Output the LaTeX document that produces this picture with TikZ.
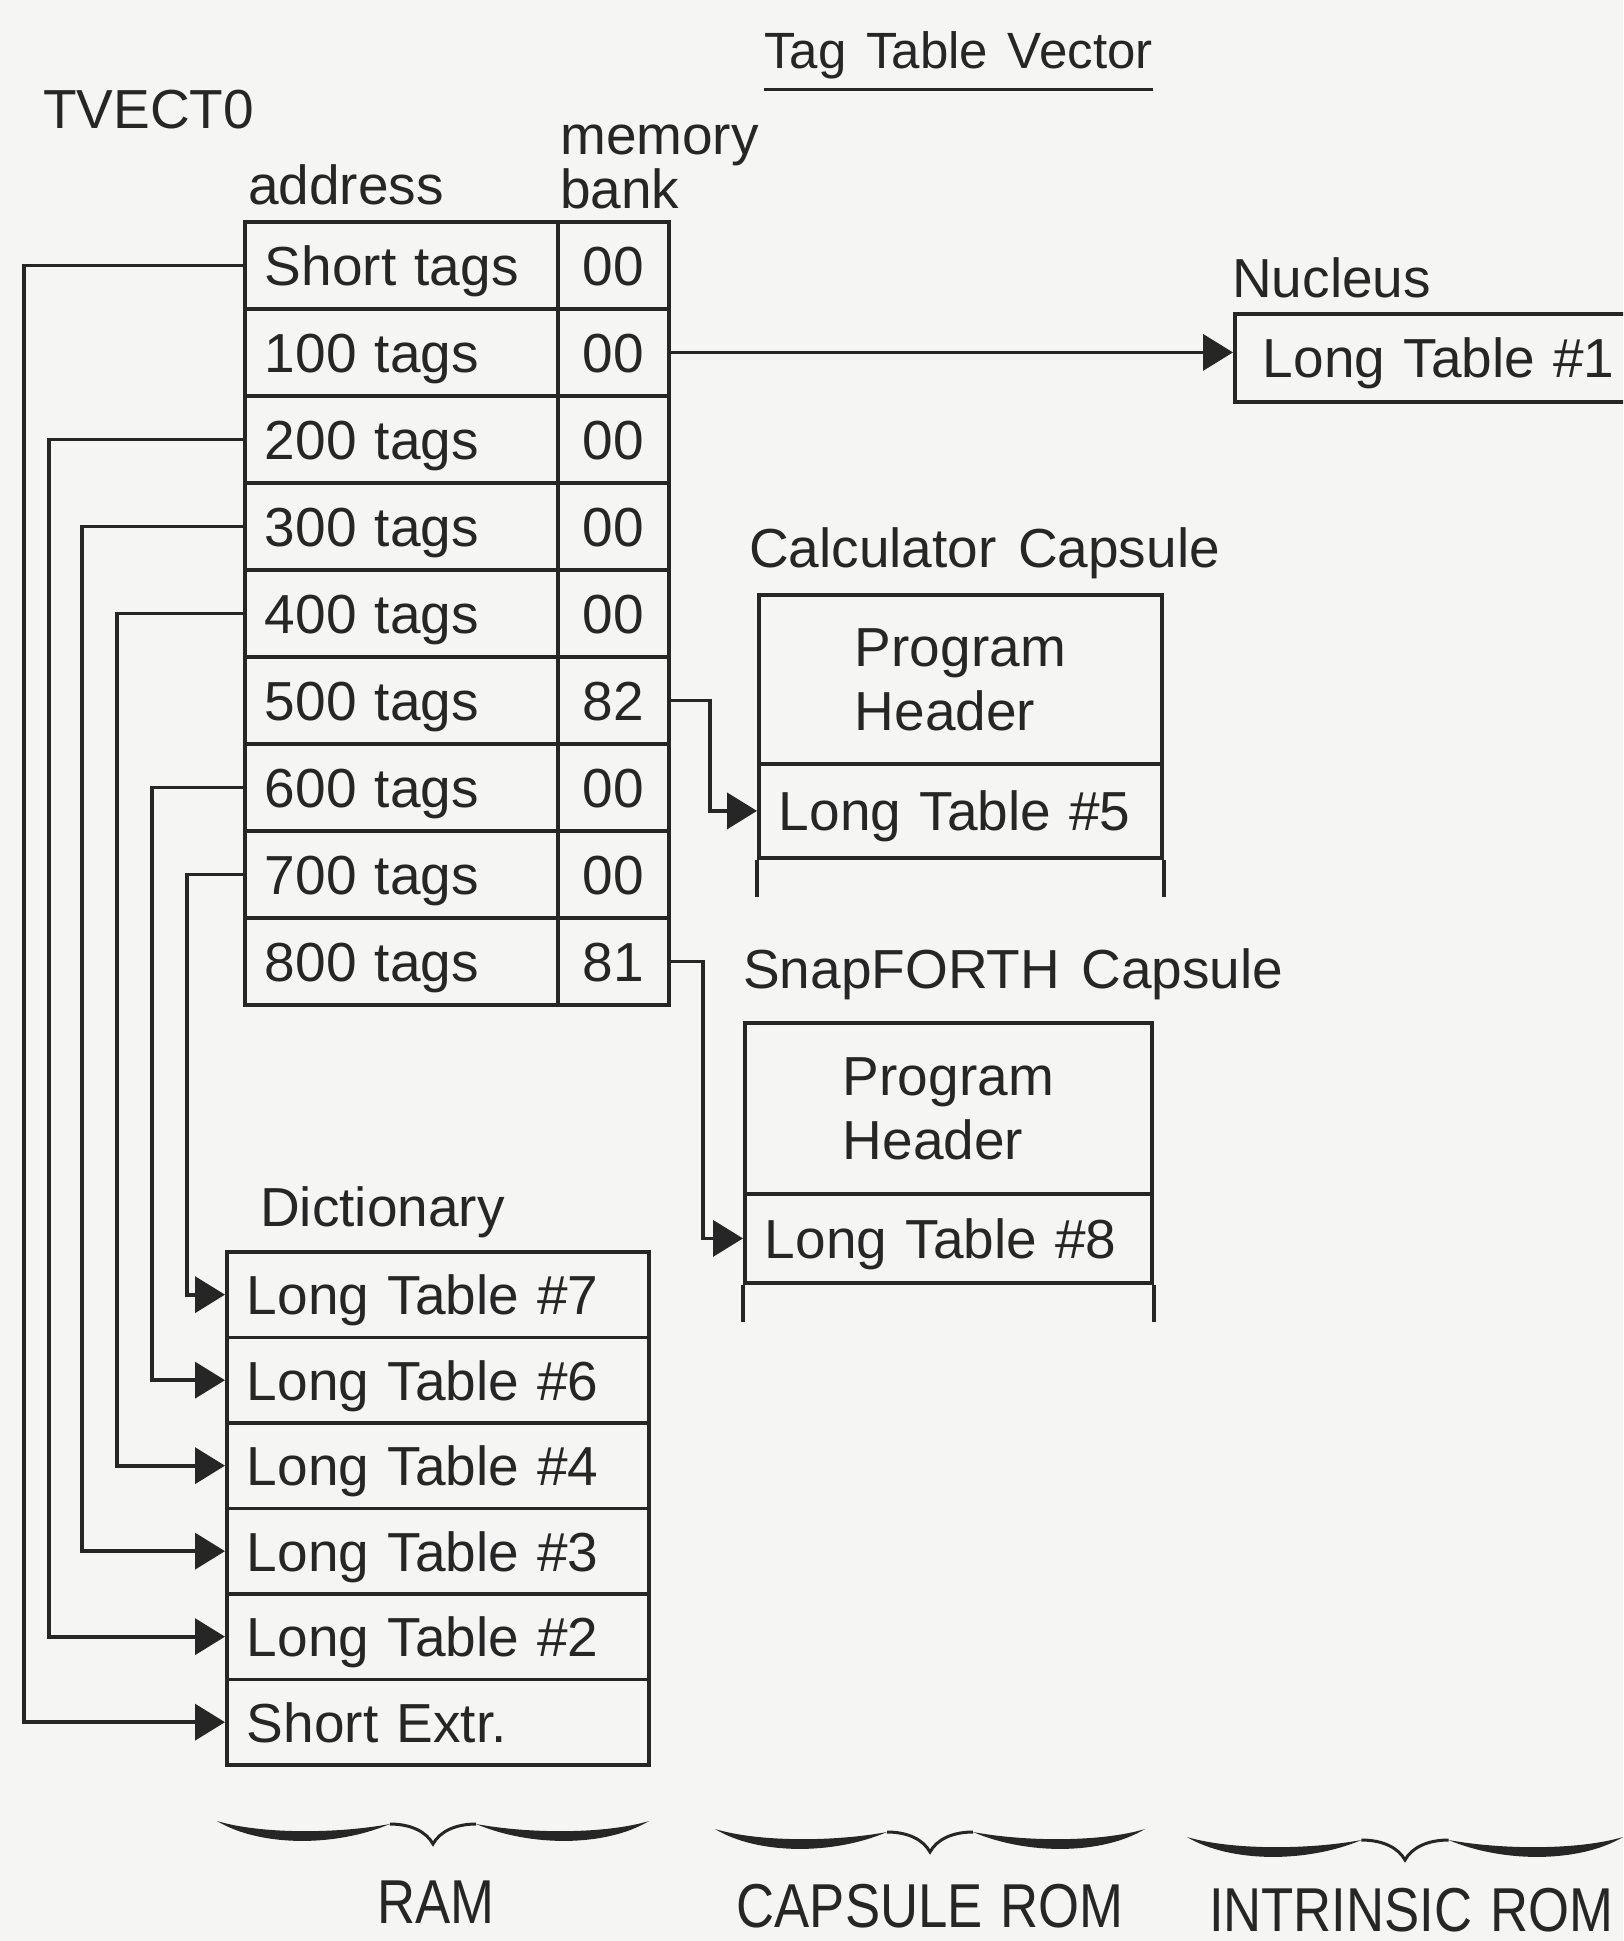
\documentclass[tikz,border=0pt]{standalone}
\usepackage{fontspec}
\setmainfont{Liberation Sans}[WordSpace=1.4]
\newfontfamily\condfont{Liberation Sans}[FakeStretch=0.85,WordSpace=1.2]
\usetikzlibrary{arrows.meta}
\definecolor{ink}{HTML}{262626}
\definecolor{paper}{HTML}{F5F5F3}
\begin{document}
\begin{tikzpicture}[x=1pt,y=-1pt,
  every node/.style={text=ink},
  txt/.style={inner sep=0pt, anchor=base west, font=\fontsize{55}{64}\selectfont},
  cell/.style={draw=ink, line width=3.8pt, anchor=north west, inner xsep=20pt, inner ysep=0pt,
    text height=40pt, text depth=0pt, font=\fontsize{55}{64}\selectfont},
  acell/.style={cell, minimum height=87pt, text width=273pt, align=left},
  bcell/.style={cell, minimum height=87pt, minimum width=111pt},
  dcell/.style={cell, minimum height=85.5pt, text width=382pt, align=left},
  hdr/.style={draw=ink, line width=3.8pt, anchor=north west, inner sep=0pt, align=left,
    font=\fontsize{55}{64}\selectfont},
  conn/.style={draw=ink, line width=3.8pt, -{Triangle[length=30pt,width=36pt]}},
  wire/.style={draw=ink, line width=3.8pt},
  bot/.style={inner sep=0pt, anchor=base, font=\condfont\fontsize{62}{70}\selectfont},
]
\useasboundingbox (0,0) rectangle (1623,1941);
\clip (0,0) rectangle (1623,1941);
\fill[paper] (0,0) rectangle (1623,1941);

% headings
\node[txt, font=\fontsize{51}{60}\selectfont] (title) at (764,68) {Tag Table Vector};
\draw[wire, line width=3pt] ([yshift=-21pt]title.base west) -- ([yshift=-21pt]title.base east);
\node[txt] (tv) at (43,128) {TVECT0};
\node[txt] (addr) at (248,204) {address};
\node[txt] (mem) at (560,154) {memory};
\node[txt] (bank) at (560,208) {bank};

% tag table vector
\foreach \i/\a/\b in {1/Short tags/00, 2/100 tags/00, 3/200 tags/00, 4/300 tags/00,
  5/400 tags/00, 6/500 tags/82, 7/600 tags/00, 8/700 tags/00, 9/800 tags/81} {
  \node[acell] (t\i) at (243,{220+87*(\i-1)}) {\a};
  \node[bcell] (b\i) at (556,{220+87*(\i-1)}) {\b};
}

% dictionary
\node[txt] (dict) at (260,1226) {Dictionary};
\foreach \i/\a in {1/Long Table \#7, 2/Long Table \#6, 3/Long Table \#4,
  4/Long Table \#3, 5/Long Table \#2, 6/Short Extr.} {
  \node[dcell] (d\i) at (225,{1250+85.5*(\i-1)}) {\a};
}

% left connectors
\coordinate (v1) at (24,0);
\coordinate (v2) at (49,0);
\coordinate (v3) at (82,0);
\coordinate (v4) at (117,0);
\coordinate (v5) at (152,0);
\coordinate (v6) at (187,0);
\draw[conn] (t1.west) -- (t1.west -| v1) |- (d6.west);
\draw[conn] (t3.west) -- (t3.west -| v2) |- (d5.west);
\draw[conn] (t4.west) -- (t4.west -| v3) |- (d4.west);
\draw[conn] (t5.west) -- (t5.west -| v4) |- (d3.west);
\draw[conn] (t7.west) -- (t7.west -| v5) |- (d2.west);
\draw[conn] (t8.west) -- (t8.west -| v6) |- (d1.west);

% nucleus
\node[txt] (nucl) at (1232,297) {Nucleus};
\node[cell, minimum height=88pt, inner xsep=28pt, text width=440pt, align=left] (nuc) at (1233,312) {Long Table \#1};
\draw[conn] (b2.east) -- (b2.east -| nuc.west);

% calculator capsule
\node[txt] (calcl) at (749,567) {Calculator Capsule};
\node[hdr, minimum width=403pt, minimum height=169pt] (ch) at (757,593) {Program\\Header};
\node[cell, minimum height=94pt, text width=363pt, align=left] (lt5) at (757,762) {Long Table \#5};
\draw[wire] (lt5.south west) -- ++(0,37);
\draw[wire] (lt5.south east) -- ++(0,37);
\coordinate (j1) at (710,0);
\draw[conn] (b6.east) -- (b6.east -| j1) |- (lt5.west);

% snapforth capsule
\node[txt] (snapl) at (743,988) {SnapFORTH Capsule};
\node[hdr, minimum width=407pt, minimum height=171pt] (sh) at (743,1021) {Program\\Header};
\node[cell, minimum height=89pt, text width=367pt, align=left] (lt8) at (743,1192) {Long Table \#8};
\draw[wire] (lt8.south west) -- ++(0,37);
\draw[wire] (lt8.south east) -- ++(0,37);
\coordinate (j2) at (703,0);
\draw[conn] (b9.east) -- (b9.east -| j2) |- (lt8.west);

% braces
\foreach \cx/\cy/\w in {433/1832/216, 930/1840/215, 1405/1848/218} {
  \fill[ink] ({\cx-\w},{\cy-11}) .. controls ({\cx-0.8*\w},{\cy+15}) and ({\cx-0.45*\w},{\cy+15}) .. ({\cx-0.2*\w},{\cy-8})
     .. controls ({\cx-0.45*\w},{\cy+2}) and ({\cx-0.8*\w},{\cy+2}) .. cycle;
  \fill[ink] ({\cx+\w},{\cy-11}) .. controls ({\cx+0.8*\w},{\cy+15}) and ({\cx+0.45*\w},{\cy+15}) .. ({\cx+0.2*\w},{\cy-8})
     .. controls ({\cx+0.45*\w},{\cy+2}) and ({\cx+0.8*\w},{\cy+2}) .. cycle;
  \draw[ink, line width=3pt] ({\cx-0.2*\w},{\cy-8}) .. controls ({\cx-0.1*\w},{\cy-8}) and ({\cx-0.03*\w},{\cy}) .. (\cx,{\cy+12})
     .. controls ({\cx+0.03*\w},{\cy}) and ({\cx+0.1*\w},{\cy-8}) .. ({\cx+0.2*\w},{\cy-8});
}

% bottom labels
\node[bot] (ram) at (436,1923) {RAM};
\node[bot] (crom) at (930,1927) {CAPSULE ROM};
\node[bot] (irom) at (1411,1931) {INTRINSIC ROM};
\end{tikzpicture}
\end{document}
